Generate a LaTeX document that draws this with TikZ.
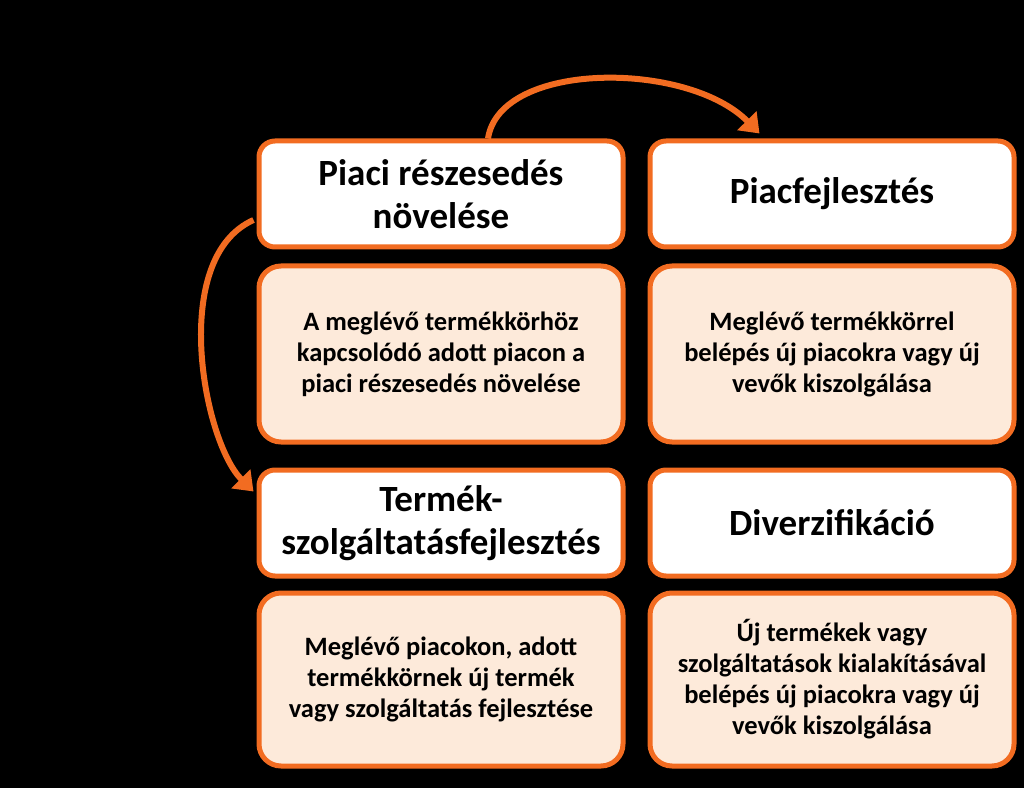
\documentclass[tikz,border=0pt]{standalone}
\usepackage{fontspec}
\setmainfont{Carlito}
\usetikzlibrary{positioning,arrows.meta}
\definecolor{corange}{HTML}{F26C21}
\definecolor{cpeach}{HTML}{FDEADA}
\tikzset{
 hdr/.style={rectangle, rounded corners=16pt, draw=corange, fill=white,
 line width=5pt, align=center, minimum width=364pt, minimum height=106pt,
 font=\fontsize{37}{43}\selectfont\bfseries, text=black},
 desc/.style={rectangle, rounded corners=22pt, draw=corange, fill=cpeach,
 line width=5pt, align=center, minimum width=364pt,
 font=\fontsize{26.5}{31}\selectfont\bfseries, text=black},
 curvearr/.style={-{Triangle[length=18pt,width=26pt]}, draw=corange, line width=6pt},
}

\begin{document}
\begin{tikzpicture}[x=1pt, y=1pt]
 \fill[black] (0,0) rectangle (1024,788);
 \useasboundingbox (0,0) rectangle (1024,788);

 \node[hdr] (hdrA) at (441,594) {Piaci részesedés\\növelése};
 \node[hdr, right=22pt of hdrA] (hdrB) {Piacfejlesztés};
 \node[desc, minimum height=176pt, below=14pt of hdrA] (descA)
 {A meglévő termékkörhöz\\kapcsolódó adott piacon a\\piaci részesedés növelése};
 \node[desc, minimum height=176pt, below=14pt of hdrB] (descB)
 {Meglévő termékkörrel\\belépés új piacokra vagy új\\vevők kiszolgálása};
 \node[hdr, below=23pt of descA] (hdrC) {Termék-\\szolgáltatásfejlesztés};
 \node[hdr, below=23pt of descB] (hdrD) {Diverzifikáció};
 \node[desc, minimum height=173pt, below=12pt of hdrC] (descC)
 {Meglévő piacokon, adott\\termékkörnek új termék\\vagy szolgáltatás fejlesztése};
 \node[desc, minimum height=173pt, below=12pt of hdrD] (descD)
 {Új termékek vagy\\szolgáltatások kialakításával\\belépés új piacokra vagy új\\vevők kiszolgálása};

 \draw[curvearr] ([xshift=47pt]hdrA.north) .. controls +(12,78) and +(-72,73) .. ([xshift=112pt,yshift=5pt]hdrB.north west);
 \draw[curvearr] ([xshift=-3pt,yshift=-26pt]hdrA.west) .. controls +(-85,-38) and +(-50,50) .. ([xshift=-3pt,yshift=-24pt]hdrC.north west);
\end{tikzpicture}
\end{document}
